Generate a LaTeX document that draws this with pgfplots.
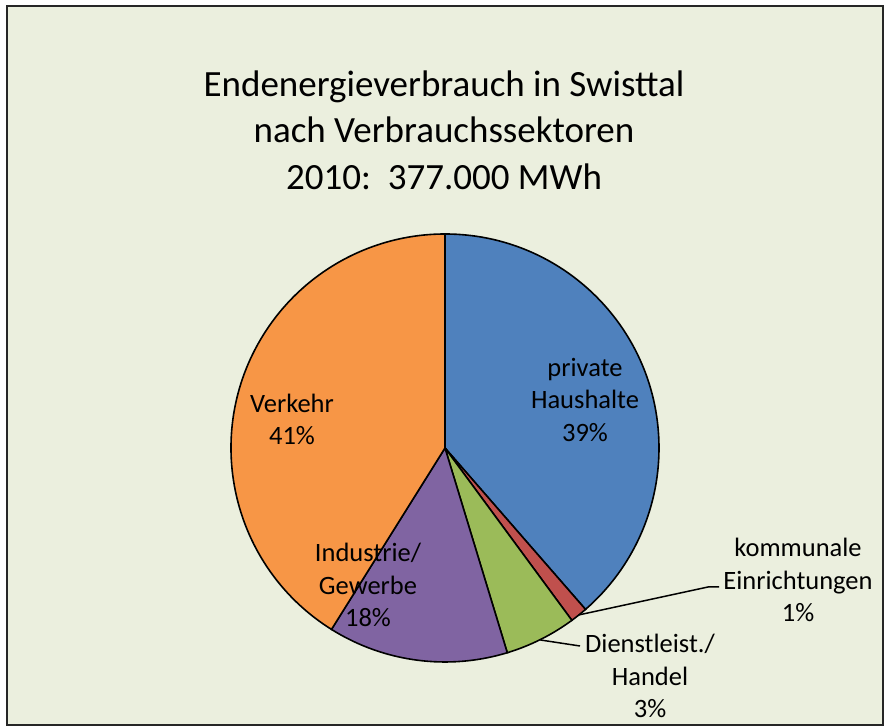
\documentclass[border=0pt]{standalone}
\usepackage{pgfplots}
\pgfplotsset{compat=1.18}
\usepackage{pgfplotstable}
\usepackage{fontspec}
\setmainfont{Carlito}
\definecolor{bg}{RGB}{235,239,222}
\definecolor{pieA}{HTML}{4F81BD}
\definecolor{pieB}{HTML}{C0504D}
\definecolor{pieC}{HTML}{9BBB59}
\definecolor{pieD}{HTML}{8064A2}
\definecolor{pieE}{HTML}{F79646}
% shares of the slices (percent of the full circle), clockwise from the top
\pgfplotstableread{
sector share
Haushalte 38.6
Kommunal 1.3
Dienst 5.4
Industrie 13.6
Verkehr 41.1
}\piedata
\def\angA{90}
\pgfplotstablegetelem{0}{share}\of\piedata \pgfmathsetmacro\angB{\angA-3.6*\pgfplotsretval}
\pgfplotstablegetelem{1}{share}\of\piedata \pgfmathsetmacro\angC{\angB-3.6*\pgfplotsretval}
\pgfplotstablegetelem{2}{share}\of\piedata \pgfmathsetmacro\angD{\angC-3.6*\pgfplotsretval}
\pgfplotstablegetelem{3}{share}\of\piedata \pgfmathsetmacro\angE{\angD-3.6*\pgfplotsretval}
\pgfplotstablegetelem{4}{share}\of\piedata \pgfmathsetmacro\angF{\angE-3.6*\pgfplotsretval}
\newcommand\lab{\fontsize{26.5}{32.5}\selectfont}
\begin{document}
\begin{tikzpicture}
\begin{axis}[
  scale only axis, width=886pt, height=727pt,
  xmin=0, xmax=886, ymin=0, ymax=727,
  hide axis, clip=false,
]
\fill[white] (axis cs:0,0) rectangle (axis cs:886,727);
\fill[bg, draw=black!85, line width=2pt] (axis cs:7,1.5) rectangle (axis cs:883,721);
\node[align=center, font=\fontsize{37}{46.5}\selectfont] at (axis cs:444,597)
  {Endenergieverbrauch in Swisttal\\nach Verbrauchssektoren\\2010:\ \ 377.000 MWh};
\filldraw[fill=pieA, draw=black, line width=1.6pt] (axis cs:445,279) -- ++(\angA:214pt) arc[start angle=\angA, end angle=\angB, radius=214pt] -- cycle;
\filldraw[fill=pieB, draw=black, line width=1.6pt] (axis cs:445,279) -- ++(\angB:214pt) arc[start angle=\angB, end angle=\angC, radius=214pt] -- cycle;
\filldraw[fill=pieC, draw=black, line width=1.6pt] (axis cs:445,279) -- ++(\angC:214pt) arc[start angle=\angC, end angle=\angD, radius=214pt] -- cycle;
\filldraw[fill=pieD, draw=black, line width=1.6pt] (axis cs:445,279) -- ++(\angD:214pt) arc[start angle=\angD, end angle=\angE, radius=214pt] -- cycle;
\filldraw[fill=pieE, draw=black, line width=1.6pt] (axis cs:445,279) -- ++(\angE:214pt) arc[start angle=\angE, end angle=\angF, radius=214pt] -- cycle;
% leader lines
\draw[line width=1.5pt] (axis cs:578.5,112) -- (axis cs:708,140) -- (axis cs:719,140);
\draw[line width=1.5pt] (axis cs:540.5,87) -- (axis cs:580,81);
% labels
\node[align=center, font=\lab] at (axis cs:585,327) {private\\Haushalte\\39\%};
\node[align=center, font=\lab] at (axis cs:292,307.5) {Verkehr\\41\%};
\node[align=center, font=\lab] at (axis cs:368,142) {Industrie/\\Gewerbe\\18\%};
\node[align=center, font=\lab] at (axis cs:798,147) {kommunale\\Einrichtungen\\1\%};
\node[align=center, font=\lab] at (axis cs:650,51) {Dienstleist./\\Handel\\3\%};
\end{axis}
\end{tikzpicture}
\end{document}
